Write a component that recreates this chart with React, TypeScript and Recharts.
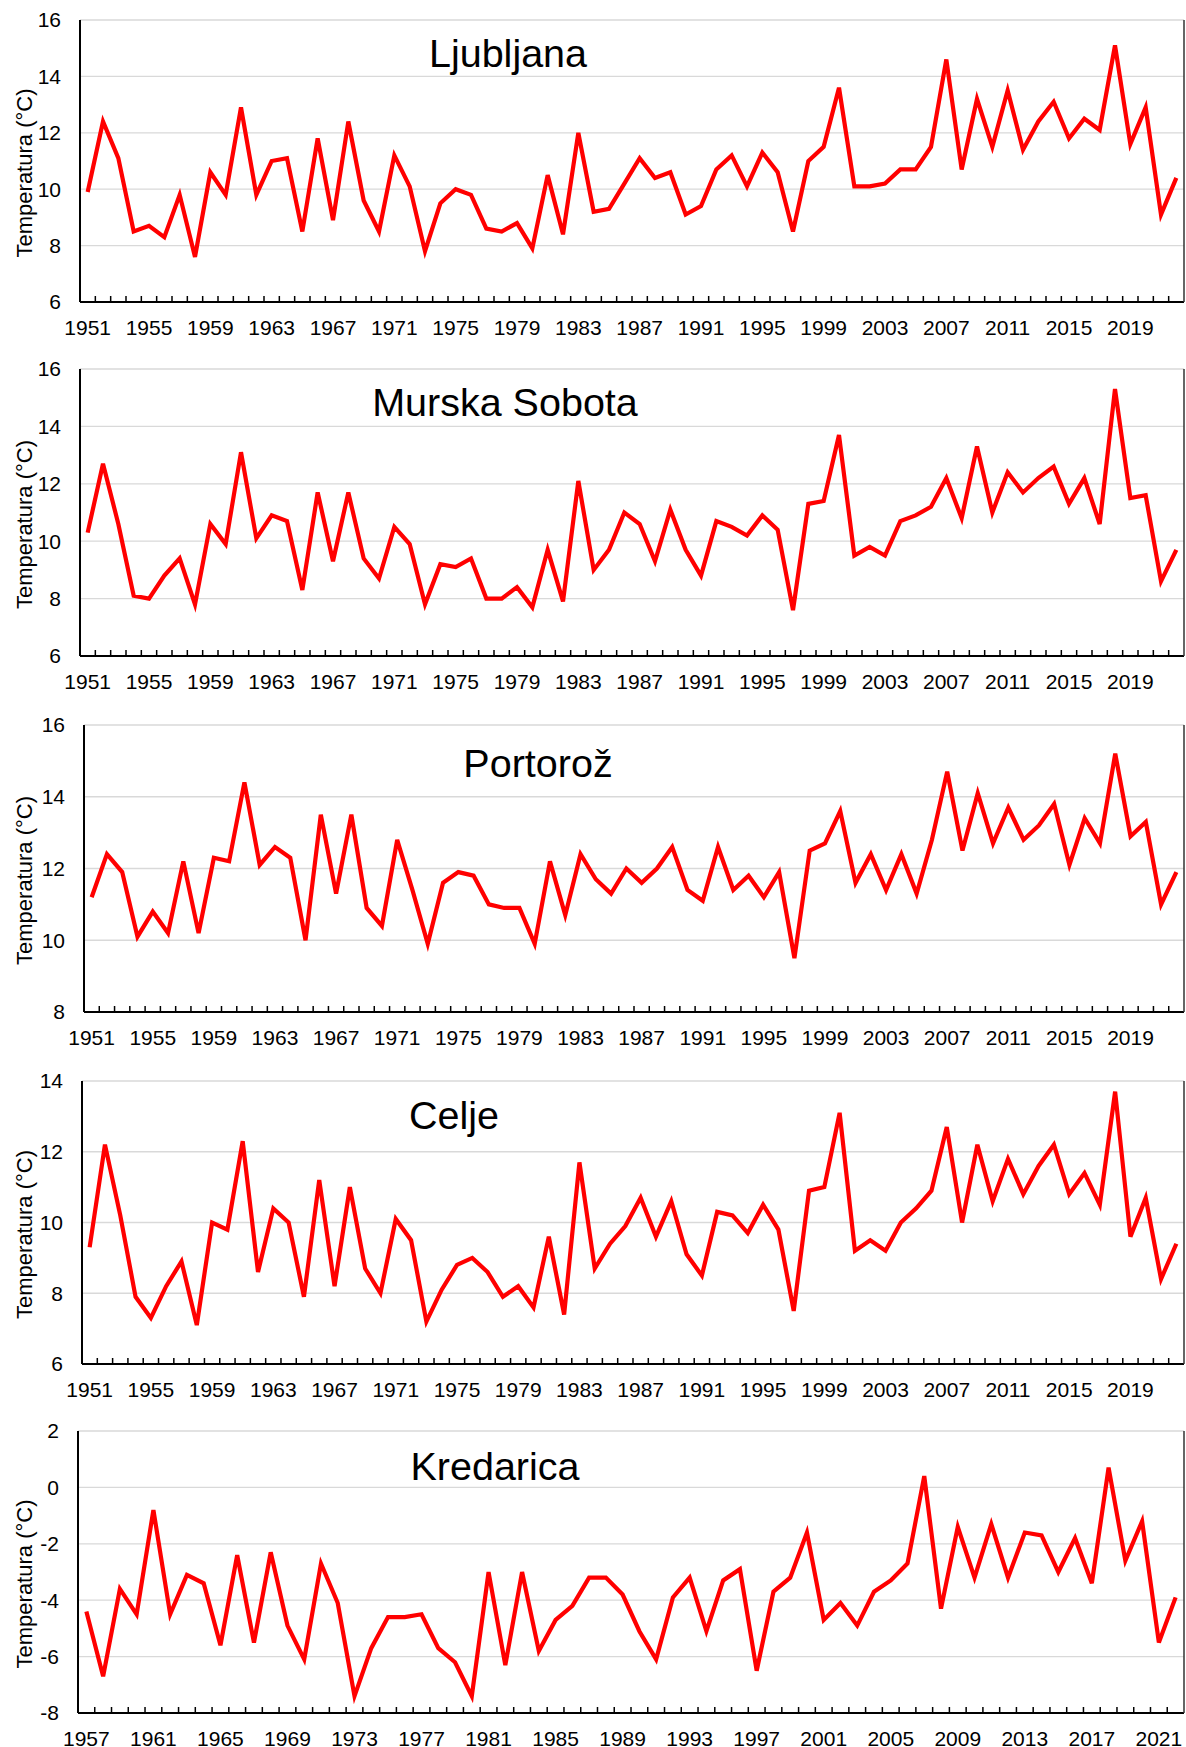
import React from 'react'
import { LineChart, Line, XAxis, YAxis, CartesianGrid } from 'recharts'

// categories
const yearsFrom = (start: number, end: number) => {
  const out: number[] = []
  for (let y = start; y <= end; y++) out.push(y)
  return out
}
const years1951 = yearsFrom(1951, 2022)
const years1957 = yearsFrom(1957, 2022)

// annual mean temperature (°C)
const ljubljana = [
  9.9, 12.4, 11.1, 8.5, 8.7, 8.3, 9.8, 7.6, 10.6, 9.8,
  12.9, 9.8, 11.0, 11.1, 8.5, 11.8, 8.9, 12.4, 9.6, 8.5,
  11.2, 10.1, 7.8, 9.5, 10.0, 9.8, 8.6, 8.5, 8.8, 7.9,
  10.5, 8.4, 12.0, 9.2, 9.3, 10.2, 11.1, 10.4, 10.6, 9.1,
  9.4, 10.7, 11.2, 10.1, 11.3, 10.6, 8.5, 11.0, 11.5, 13.6,
  10.1, 10.1, 10.2, 10.7, 10.7, 11.5, 14.6, 10.7, 13.2, 11.5,
  13.5, 11.4, 12.4, 13.1, 11.8, 12.5, 12.1, 15.1, 11.6, 12.9,
  9.1, 10.4,
]
const murskaSobota = [
  10.3, 12.7, 10.6, 8.1, 8.0, 8.8, 9.4, 7.8, 10.6, 9.9,
  13.1, 10.1, 10.9, 10.7, 8.3, 11.7, 9.3, 11.7, 9.4, 8.7,
  10.5, 9.9, 7.8, 9.2, 9.1, 9.4, 8.0, 8.0, 8.4, 7.7,
  9.7, 7.9, 12.1, 9.0, 9.7, 11.0, 10.6, 9.3, 11.1, 9.7,
  8.8, 10.7, 10.5, 10.2, 10.9, 10.4, 7.6, 11.3, 11.4, 13.7,
  9.5, 9.8, 9.5, 10.7, 10.9, 11.2, 12.2, 10.8, 13.3, 11.0,
  12.4, 11.7, 12.2, 12.6, 11.3, 12.2, 10.6, 15.3, 11.5, 11.6,
  8.6, 9.7,
]
const portoroz = [
  11.2, 12.4, 11.9, 10.1, 10.8, 10.2, 12.2, 10.2, 12.3, 12.2,
  14.4, 12.1, 12.6, 12.3, 10.0, 13.5, 11.3, 13.5, 10.9, 10.4,
  12.8, 11.4, 9.9, 11.6, 11.9, 11.8, 11.0, 10.9, 10.9, 9.9,
  12.2, 10.7, 12.4, 11.7, 11.3, 12.0, 11.6, 12.0, 12.6, 11.4,
  11.1, 12.6, 11.4, 11.8, 11.2, 11.9, 9.5, 12.5, 12.7, 13.6,
  11.6, 12.4, 11.4, 12.4, 11.3, 12.8, 14.7, 12.5, 14.1, 12.7,
  13.7, 12.8, 13.2, 13.8, 12.1, 13.4, 12.7, 15.2, 12.9, 13.3,
  11.0, 11.9,
]
const celje = [
  9.3, 12.2, 10.2, 7.9, 7.3, 8.2, 8.9, 7.1, 10.0, 9.8,
  12.3, 8.6, 10.4, 10.0, 7.9, 11.2, 8.2, 11.0, 8.7, 8.0,
  10.1, 9.5, 7.2, 8.1, 8.8, 9.0, 8.6, 7.9, 8.2, 7.6,
  9.6, 7.4, 11.7, 8.7, 9.4, 9.9, 10.7, 9.6, 10.6, 9.1,
  8.5, 10.3, 10.2, 9.7, 10.5, 9.8, 7.5, 10.9, 11.0, 13.1,
  9.2, 9.5, 9.2, 10.0, 10.4, 10.9, 12.7, 10.0, 12.2, 10.6,
  11.8, 10.8, 11.6, 12.2, 10.8, 11.4, 10.5, 13.7, 9.6, 10.7,
  8.4, 9.4,
]
const kredarica = [
  -4.4, -6.7, -3.6, -4.5, -0.8, -4.5, -3.1, -3.4, -5.6, -2.4,
  -5.5, -2.3, -4.9, -6.1, -2.7, -4.1, -7.4, -5.7, -4.6, -4.6,
  -4.5, -5.7, -6.2, -7.4, -3.0, -6.3, -3.0, -5.8, -4.7, -4.2,
  -3.2, -3.2, -3.8, -5.1, -6.1, -3.9, -3.2, -5.1, -3.3, -2.9,
  -6.5, -3.7, -3.2, -1.6, -4.7, -4.1, -4.9, -3.7, -3.3, -2.7,
  0.4, -4.3, -1.4, -3.2, -1.3, -3.2, -1.6, -1.7, -3.0, -1.8,
  -3.4, 0.7, -2.6, -1.2, -5.5, -3.9,
]

const ticks6to16 = [6, 8, 10, 12, 14, 16]
const ticks8to16 = [8, 10, 12, 14, 16]
const ticks6to14 = [6, 8, 10, 12, 14]
const ticksM8to2 = [-8, -6, -4, -2, 0, 2]

const W = 1186
const PLOT_RIGHT = 1184
const TOP_PAD = 20
const X_AXIS_H = 45

const panels = [
  { name: 'Ljubljana', years: years1951, values: ljubljana, ticks: ticks6to16, top: 20, bottom: 302, left: 80, titleX: 508, titleDy: 47 },
  { name: 'Murska Sobota', years: years1951, values: murskaSobota, ticks: ticks6to16, top: 369, bottom: 656, left: 80, titleX: 505, titleDy: 47 },
  { name: 'Portorož', years: years1951, values: portoroz, ticks: ticks8to16, top: 725, bottom: 1012, left: 84, titleX: 538, titleDy: 52 },
  { name: 'Celje', years: years1951, values: celje, ticks: ticks6to14, top: 1081, bottom: 1364, left: 82, titleX: 454, titleDy: 48 },
  { name: 'Kredarica', years: years1957, values: kredarica, ticks: ticksM8to2, top: 1431, bottom: 1713, left: 78, titleX: 495, titleDy: 49 },
]

function makeTick(band: number) {
  return (props: any) => {
    const { x, y, payload } = props
    const i = payload?.index ?? props.index
    return (
      <g>
        <line x1={x - band / 2} x2={x - band / 2} y1={y} y2={y - 6} stroke="#000" strokeWidth={1.5} />
        {i % 4 === 0 && (
          <text x={x} y={y + 33} textAnchor="middle" fontSize={21} fill="#000">
            {payload.value}
          </text>
        )}
      </g>
    )
  }
}

function Panel({ p }: { p: (typeof panels)[number] }) {
  const data = p.years.map((year, i) => ({ year, t: p.values[i] }))
  const plotH = p.bottom - p.top
  const h = plotH + TOP_PAD + X_AXIS_H
  const band = (PLOT_RIGHT - p.left) / data.length
  const domain = [p.ticks[0], p.ticks[p.ticks.length - 1]]
  return (
    <div style={{ position: 'absolute', left: 0, top: p.top - TOP_PAD, width: W, height: h }}>
      <LineChart width={W} height={h} data={data} margin={{ top: TOP_PAD, right: 0, bottom: 0, left: 0 }}>
        <CartesianGrid vertical={false} stroke="#d9d9d9" strokeWidth={1.3} />
        <XAxis
          dataKey="year"
          height={X_AXIS_H}
          interval={0}
          padding={{ left: band / 2, right: band / 2 }}
          tickSize={0}
          tickMargin={0}
          tickLine={false}
          axisLine={{ stroke: '#000', strokeWidth: 2 }}
          tick={makeTick(band)}
        />
        <XAxis xAxisId="top" dataKey="year" orientation="top" height={0} tick={false} tickLine={false} axisLine={{ stroke: '#333', strokeWidth: 1.5 }} />
        <YAxis
          width={p.left}
          domain={domain}
          ticks={p.ticks}
          interval={0}
          tickSize={0}
          tickMargin={19}
          tickLine={false}
          axisLine={{ stroke: '#000', strokeWidth: 2 }}
          tick={{ fill: '#000', fontSize: 21 }}
        />
        <YAxis yAxisId="r" orientation="right" width={W - PLOT_RIGHT} domain={domain} ticks={p.ticks} tick={false} tickLine={false} axisLine={{ stroke: '#333', strokeWidth: 1.5 }} />
        <Line type="linear" dataKey="t" stroke="#ff0000" strokeWidth={4.2} dot={false} activeDot={false} isAnimationActive={false} />
      </LineChart>
      <svg width={W} height={h} style={{ position: 'absolute', left: 0, top: 0, pointerEvents: 'none' }}>
        <text x={p.titleX} y={TOP_PAD + p.titleDy} textAnchor="middle" fontSize={39.5} fill="#000">
          {p.name}
        </text>
        <text
          transform={`translate(24, ${TOP_PAD + plotH / 2 + 12}) rotate(-90)`}
          textAnchor="middle"
          dominantBaseline="central"
          fontSize={22}
          fill="#000"
        >
          Temperatura (°C)
        </text>
      </svg>
    </div>
  )
}

export default function App() {
  return (
    <div
      style={{
        position: 'absolute',
        left: 0,
        top: 0,
        width: W,
        height: 1747,
        background: '#fff',
        fontFamily: '"Liberation Sans", Arial, sans-serif',
      }}
    >
      {panels.map((p) => (
        <Panel key={p.name} p={p} />
      ))}
    </div>
  )
}
